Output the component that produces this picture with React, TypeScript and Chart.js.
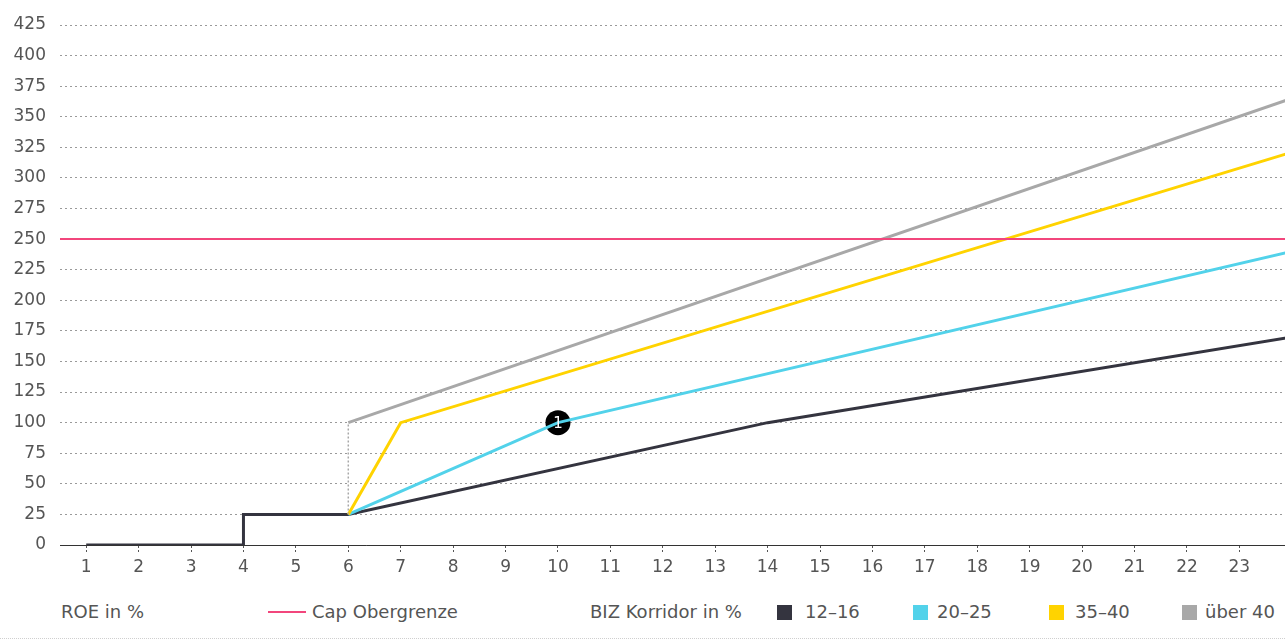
import React, { useEffect, useRef } from "react";
import { Chart, registerables } from "chart.js";

Chart.register(...registerables);

// ---- data ----
const X_TICKS = [1, 2, 3, 4, 5, 6, 7, 8, 9, 10, 11, 12, 13, 14, 15, 16, 17, 18, 19, 20, 21, 22, 23];
const Y_MIN = 0;
const Y_MAX = 425;
const Y_STEP = 25;

const CAP_X = [0.5, 24];
const CAP_Y = [250, 250];

const S12_16_X = [1, 4, 4, 6, 14, 24];
const S12_16_Y = [0, 0, 25, 25, 100, 170];

const S20_25_X = [6, 10, 24];
const S20_25_Y = [25, 100, 240];

const S35_40_X = [6, 7, 24];
const S35_40_Y = [25, 100, 321];

const SUEBER40_X = [6, 6, 24];
const SUEBER40_Y = [25, 100, 365];

const MARKER_X = [10];
const MARKER_Y = [100];
const MARKER_LABEL = ["1"];

const LEGEND_TITLE = "ROE in %";
const LEGEND_CAP = "Cap Obergrenze";
const LEGEND_BIZ = "BIZ Korridor in %";
const SERIES_LABELS = ["12–16", "20–25", "35–40", "über 40"];

const COLORS = {
  cap: "#f2467c",
  s1: "#34343f",
  s2: "#52d2ea",
  s3: "#ffd300",
  s4: "#a8a8a8",
  text: "#555555",
};

const pts = (xs: number[], ys: number[]) => xs.map((x, i) => ({ x, y: ys[i] }));

const FONT = "'DejaVu Sans', sans-serif";

const markerLabelPlugin = {
  id: "markerLabel",
  afterDatasetsDraw(chart: any) {
    const meta = chart.getDatasetMeta(5);
    if (!meta) return;
    const ctx = chart.ctx;
    ctx.save();
    ctx.fillStyle = "#ffffff";
    ctx.font = `15px ${FONT}`;
    ctx.textAlign = "center";
    ctx.textBaseline = "middle";
    meta.data.forEach((el: any, i: number) => {
      ctx.fillText(MARKER_LABEL[i], el.x, el.y + 1);
    });
    ctx.restore();
  },
};

export default function App() {
  const ref = useRef<HTMLCanvasElement | null>(null);

  useEffect(() => {
    if (!ref.current) return;
    const chart = new Chart(ref.current, {
      type: "line",
      data: {
        datasets: [
          {
            label: LEGEND_CAP,
            data: pts(CAP_X, CAP_Y),
            borderColor: COLORS.cap,
            borderWidth: 2,
            pointRadius: 0,
          },
          {
            label: SERIES_LABELS[3],
            data: pts(SUEBER40_X, SUEBER40_Y),
            borderColor: COLORS.s4,
            borderWidth: 3,
            pointRadius: 0,
            segment: {
              borderDash: (c: any) => (c.p0.parsed.x === c.p1.parsed.x ? [2, 2] : undefined),
              borderWidth: (c: any) => (c.p0.parsed.x === c.p1.parsed.x ? 1.5 : undefined),
            },
          },
          {
            label: SERIES_LABELS[2],
            data: pts(S35_40_X, S35_40_Y),
            borderColor: COLORS.s3,
            borderWidth: 3,
            pointRadius: 0,
          },
          {
            label: SERIES_LABELS[1],
            data: pts(S20_25_X, S20_25_Y),
            borderColor: COLORS.s2,
            borderWidth: 3,
            pointRadius: 0,
          },
          {
            label: SERIES_LABELS[0],
            data: pts(S12_16_X, S12_16_Y),
            borderColor: COLORS.s1,
            borderWidth: 3,
            pointRadius: 0,
          },
          {
            label: "marker",
            data: pts(MARKER_X, MARKER_Y),
            showLine: false,
            pointRadius: 12.5,
            pointBackgroundColor: "#000000",
            pointBorderColor: "#000000",
            borderWidth: 0,
          },
        ],
      },
      options: {
        animation: false,
        responsive: false,
        maintainAspectRatio: false,
        layout: { padding: { top: 25, right: 0, bottom: 0, left: 0 } },
        plugins: { legend: { display: false }, tooltip: { enabled: false } },
        scales: {
          x: {
            type: "linear",
            min: 0.5,
            max: 23.88,
            afterBuildTicks: (scale: any) => {
              scale.ticks = X_TICKS.map((v) => ({ value: v }));
            },
            afterFit: (scale: any) => {
              scale.height = 35;
              scale.paddingLeft = 0;
              scale.paddingRight = 0;
            },
            grid: {
              drawOnChartArea: false,
              drawTicks: true,
              tickLength: 8,
              color: "#555",
              tickBorderDash: [2, 2],
            },
            border: { display: true, color: "#333", dash: [3, 2], width: 1 },
            ticks: {
              color: COLORS.text,
              font: { family: FONT, size: 17 },
              padding: 4,
              maxRotation: 0,
              autoSkip: false,
            },
          },
          y: {
            type: "linear",
            min: Y_MIN,
            max: Y_MAX,
            afterFit: (scale: any) => {
              scale.width = 60;
            },
            ticks: {
              stepSize: Y_STEP,
              color: COLORS.text,
              font: { family: FONT, size: 17 },
              padding: 14,
            },
            grid: {
              drawTicks: false,
              color: "#9a9a9a",
              lineWidth: 1,
            },
            border: { display: false, dash: [2, 3] },
          },
        },
      },
      plugins: [markerLabelPlugin],
    } as any);
    return () => chart.destroy();
  }, []);

  const textStyle: React.CSSProperties = {
    position: "absolute",
    top: 601,
    fontFamily: FONT,
    fontSize: 18,
    color: COLORS.text,
    lineHeight: "22px",
    whiteSpace: "nowrap",
  };
  const box = (left: number, color: string): React.CSSProperties => ({
    position: "absolute",
    left,
    top: 605,
    width: 15,
    height: 15,
    background: color,
  });

  return (
    <div style={{ position: "absolute", left: 0, top: 0, width: 1285, height: 642, background: "#fff", overflow: "hidden" }}>
      <canvas ref={ref} width={1298} height={580} style={{ position: "absolute", left: 0, top: 0, width: 1298, height: 580 }} />
      <span style={{ ...textStyle, left: 61 }}>{LEGEND_TITLE}</span>
      <div style={{ position: "absolute", left: 268, top: 611, width: 38, height: 2, background: COLORS.cap }} />
      <span style={{ ...textStyle, left: 312 }}>{LEGEND_CAP}</span>
      <span style={{ ...textStyle, left: 590 }}>{LEGEND_BIZ}</span>
      <div style={box(777, COLORS.s1)} />
      <span style={{ ...textStyle, left: 805 }}>{SERIES_LABELS[0]}</span>
      <div style={box(913, COLORS.s2)} />
      <span style={{ ...textStyle, left: 937 }}>{SERIES_LABELS[1]}</span>
      <div style={box(1049, COLORS.s3)} />
      <span style={{ ...textStyle, left: 1075 }}>{SERIES_LABELS[2]}</span>
      <div style={box(1182, COLORS.s4)} />
      <span style={{ ...textStyle, left: 1205 }}>{SERIES_LABELS[3]}</span>
      <div style={{ position: "absolute", left: 0, top: 638, width: 1285, height: 0, borderTop: "1px dotted #cfcfcf" }} />
    </div>
  );
}
